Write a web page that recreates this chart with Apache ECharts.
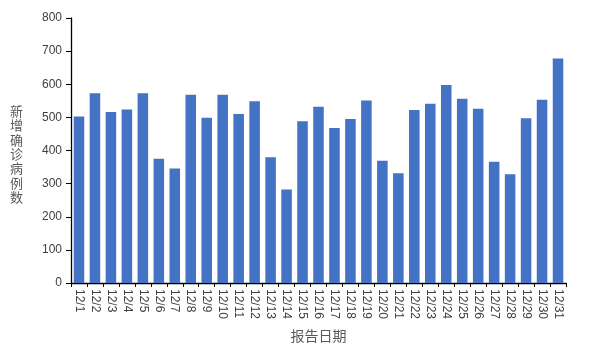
<!DOCTYPE html>
<html><head><meta charset="utf-8">
<script src="https://cdn.jsdelivr.net/npm/echarts@6/dist/echarts.min.js"></script>
<style>html,body{margin:0;padding:0;background:#fff}#c{width:600px;height:348px}</style>
</head><body><div id="c"></div>
<script>
var categories = ['12/1','12/2','12/3','12/4','12/5','12/6','12/7','12/8','12/9','12/10','12/11','12/12','12/13','12/14','12/15','12/16','12/17','12/18','12/19','12/20','12/21','12/22','12/23','12/24','12/25','12/26','12/27','12/28','12/29','12/30','12/31'];
var newCases = [503,573,516,524,573,375,346,568,499,568,510,549,380,282,488,532,468,495,551,369,331,522,541,598,556,526,366,328,497,553,678];
var yTicks = {min:0, max:800, interval:100};
var yTitle = '新增确诊病例数';
var xTitle = '报告日期';

var chart = echarts.init(document.getElementById('c'));
chart.setOption({
  animation:false,
  grid:{left:71, right:34, top:18, bottom:65},
  xAxis:{type:'category', data:categories,
    axisLine:{lineStyle:{color:'#000', width:1.3}},
    axisTick:{show:true, length:4, lineStyle:{color:'#000'}},
    axisLabel:{rotate:-90, interval:0, fontSize:12, color:'#404040', fontFamily:'Liberation Sans', margin:6},
    name:xTitle, nameLocation:'middle', nameGap:46,
    nameTextStyle:{fontSize:14, color:'#595959', fontFamily:'Noto Sans CJK SC'}
  },
  yAxis:{type:'value', min:yTicks.min, max:yTicks.max, interval:yTicks.interval,
    axisLine:{show:true, lineStyle:{color:'#000', width:1.3}},
    axisTick:{show:true, length:5, lineStyle:{color:'#000'}},
    splitLine:{show:false},
    axisLabel:{fontSize:12, color:'#404040', fontFamily:'Liberation Sans', margin:9}
  },
  graphic:[{type:'text', left:10, top:104,
    style:{text:yTitle.split('').join('\n'), fontSize:13, lineHeight:14.3, fill:'#595959', fontFamily:'Noto Sans CJK SC'}}],
  series:[{type:'bar', data:newCases, barCategoryGap:'34%', itemStyle:{color:'#4472C4'}}]
});
</script></body></html>
